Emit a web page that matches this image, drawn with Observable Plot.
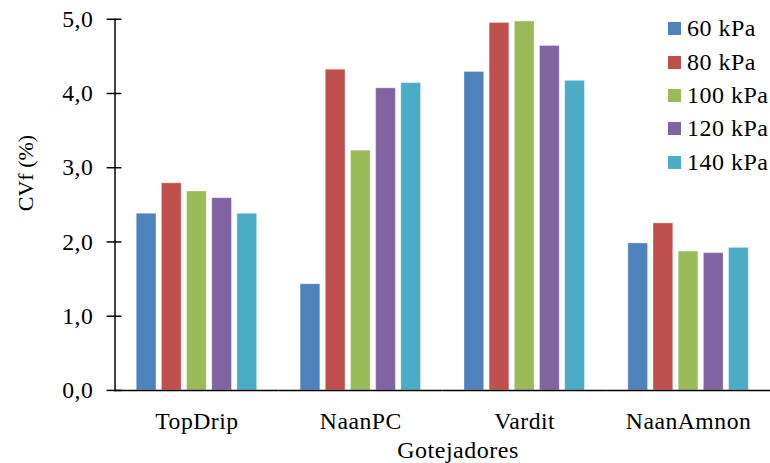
<!DOCTYPE html>
<html>
<head>
<meta charset="utf-8">
<script src="https://cdn.jsdelivr.net/npm/d3@7"></script>
<script src="https://cdn.jsdelivr.net/npm/@observablehq/plot@0.6"></script>
<style>
  body { margin: 0; background: #fff; }
  #wrap { position: relative; width: 770px; height: 463px; overflow: hidden; font-family: "Liberation Serif", "Times New Roman", serif; }
  #wrap svg text { letter-spacing: 0.5px; font-family: "Liberation Serif", "Times New Roman", serif; }
  .lab { position: absolute; font-size: 24px; color: #000; white-space: nowrap; line-height: 1; }
  .leg { position: absolute; left: 668px; font-size: 24px; letter-spacing: 0.5px; white-space: nowrap; line-height: 1; }
  .sw { position: absolute; width: 13px; height: 13px; }
</style>
</head>
<body>
<div id="wrap"></div>
<script>
const categories = ["TopDrip", "NaanPC", "Vardit", "NaanAmnon"];
const series = ["60 kPa", "80 kPa", "100 kPa", "120 kPa", "140 kPa"];
const topDrip = [2.38, 2.79, 2.68, 2.59, 2.38];
const naanPC = [1.43, 4.32, 3.23, 4.07, 4.14];
const vardit = [4.29, 4.95, 4.97, 4.64, 4.17];
const naanAmnon = [1.98, 2.25, 1.87, 1.85, 1.92];
const colors = ["#4F81BD", "#C0504D", "#9BBB59", "#8064A2", "#4BACC6"];
const yTicks = [0, 1, 2, 3, 4, 5];
const yLabel = "CVf (%)";
const xLabel = "Gotejadores";

const valuesByCat = [topDrip, naanPC, vardit, naanAmnon];
const data = [];
categories.forEach((c, i) => series.forEach((s, j) => data.push({cat: c, series: s, value: valuesByCat[i][j]})));

const fmt = d => d.toFixed(1).replace(".", ",");

const chart = Plot.plot({
  width: 780,
  height: 463,
  marginLeft: 116,
  marginRight: 0,
  marginTop: 19,
  marginBottom: 68,
  style: {fontFamily: '"Liberation Serif", "Times New Roman", serif', fontSize: "24px", color: "#000", background: "transparent"},
  fx: {domain: categories, padding: 0, round: false, label: null, axis: null},
  x: {domain: series, paddingInner: 0.216, paddingOuter: 0.863, round: false, axis: null},
  y: {domain: [0, 5], label: null},
  color: {domain: series, range: colors},
  marks: [
    Plot.barY(data, {fx: "cat", x: "series", y: "value", fill: "series", stroke: "#ffffff", strokeOpacity: 0.35, strokeWidth: 1}),
    Plot.ruleY([0], {stroke: "#000", strokeWidth: 1.5}),
    Plot.frame({anchor: "left", facetAnchor: "left", stroke: "#000", strokeWidth: 1.5}),
    Plot.axisY({ticks: yTicks, tickFormat: fmt, tickSize: 15, dx: 7, tickPadding: 14, label: null, stroke: "#000", strokeWidth: 1.5, fill: "#000"}),
    Plot.axisFx({anchor: "bottom", tickSize: 0, tickPadding: 22, label: null, fill: "#000"})
  ]
});

const wrap = document.getElementById("wrap");
wrap.appendChild(chart);

// y label
const yl = document.createElement("div");
yl.className = "lab";
yl.textContent = yLabel;
yl.style.fontSize = "22px";
yl.style.left = "26px";
yl.style.top = "173px";
yl.style.transform = "translate(-50%, -50%) rotate(-90deg)";
wrap.appendChild(yl);

// x label
const xl = document.createElement("div");
xl.className = "lab";
xl.textContent = xLabel;
xl.style.letterSpacing = "0.5px";
xl.style.left = "458px";
xl.style.top = "438px";
xl.style.transform = "translate(-50%, 0)";
wrap.appendChild(xl);

// legend
const rowY = [28, 62, 95, 128, 162];
series.forEach((s, i) => {
  const sw = document.createElement("div");
  sw.className = "sw";
  sw.style.background = colors[i];
  sw.style.left = "668px";
  sw.style.top = (rowY[i] - 6.5) + "px";
  wrap.appendChild(sw);
  const t = document.createElement("div");
  t.className = "leg";
  t.textContent = s;
  t.style.left = "687px";
  t.style.top = (rowY[i] - 12) + "px";
  wrap.appendChild(t);
});
</script>
</body>
</html>
